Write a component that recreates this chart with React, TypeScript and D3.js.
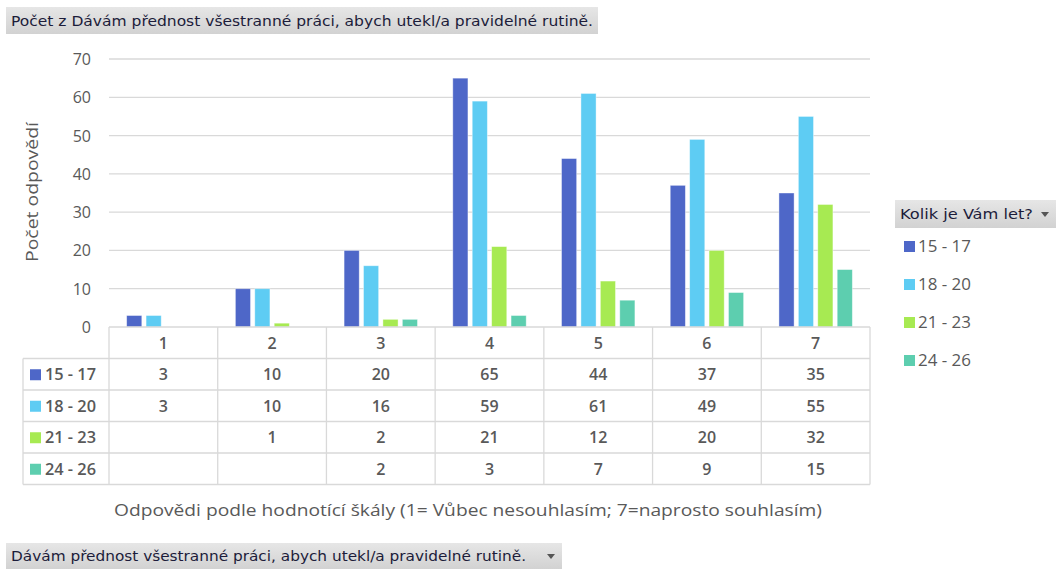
import * as d3 from 'd3';

const categories = ['1', '2', '3', '4', '5', '6', '7'];
const seriesNames = ['15 - 17', '18 - 20', '21 - 23', '24 - 26'];
const seriesColors = ['#4E67C8', '#5ECCF3', '#A7EA52', '#5DCEAF'];
const v1517 = [3, 10, 20, 65, 44, 37, 35];
const v1820 = [3, 10, 16, 59, 61, 49, 55];
const v2123 = [null, 1, 2, 21, 12, 20, 32];
const v2426 = [null, null, 2, 3, 7, 9, 15];
const yTicks = [0, 10, 20, 30, 40, 50, 60, 70];

const seriesValues: (number | null)[][] = [v1517, v1820, v2123, v2426];

const W = 1056;
const H = 570;
const plot = { left: 109, right: 870, top: 59, bottom: 327 };
const rowH = 31.5;
const tableLeft = 23;
const textGray = '#595959';
const gridGray = '#d9d9d9';
const font = '"Open Sans", "Noto Sans", sans-serif';
const boxFont = '"DejaVu Sans Condensed", "DejaVu Sans", sans-serif';

function FilterBox({ x, y, w, h, label, arrow, textW }: { x: number; y: number; w: number; h: number; label: string; arrow: boolean; textW?: number }) {
  return (
    <g>
      <rect x={x} y={y} width={w} height={h} fill="url(#btnGrad)" />
      <text x={x + 5} y={y + h / 2 + 5} fontFamily={boxFont} fontSize={14} fill="#1c1c3a"
        textLength={textW} lengthAdjust={textW ? 'spacingAndGlyphs' : undefined}>{label}</text>
      {arrow && <path d={`M${x + w - 15},${y + h / 2 - 2} l8,0 l-4,5 z`} fill="#555" />}
    </g>
  );
}

export default function App() {
  const x = d3.scaleBand().domain(categories).range([plot.left, plot.right]).padding(0);
  const groupW = 73.4;
  const xs = d3.scaleBand().domain(seriesNames).range([0, groupW]).paddingInner(0.22);
  const y = d3.scaleLinear().domain([0, 70]).range([plot.bottom, plot.top]);

  const headerBottom = plot.bottom + rowH;
  const tableBottom = headerBottom + rowH * seriesNames.length;

  return (
    <div style={{ position: 'absolute', left: 0, top: 0 }}>
      <svg width={W} height={H} style={{ display: 'block', background: '#fff' }}>
        <defs>
          <linearGradient id="btnGrad" x1="0" y1="0" x2="0" y2="1">
            <stop offset="0" stopColor="#e6e6e6" />
            <stop offset="1" stopColor="#d2d2d2" />
          </linearGradient>
        </defs>

        <FilterBox x={6} y={7} w={592} h={27} label="Počet z Dávám přednost všestranné práci, abych utekl/a pravidelné rutině." arrow={false} textW={582} />

        {/* gridlines + y labels */}
        {yTicks.map(t => (
          <g key={t}>
            {t > 0 && <line x1={plot.left} x2={plot.right} y1={y(t)} y2={y(t)} stroke={gridGray} strokeWidth={1.3} />}
            <text x={91} y={y(t) + 6} textAnchor="end" fontFamily={font} fontSize={16} fill={textGray}>{t}</text>
          </g>
        ))}

        <text transform={`translate(38,${192}) rotate(-90)`} textAnchor="middle" fontFamily={font} fontSize={17} fill={textGray}
          textLength={140} lengthAdjust="spacingAndGlyphs">Počet odpovědí</text>

        {/* bars */}
        {seriesValues.map((vals, si) => (
          <g key={si}>
            {vals.map((v, ci) => v == null ? null : (
              <rect key={ci}
                x={(x(categories[ci]) as number) + (x.bandwidth() - groupW) / 2 + (xs(seriesNames[si]) as number)}
                y={y(v)} width={xs.bandwidth()} height={y(0) - y(v)}
                fill={seriesColors[si]} stroke="#ffffff" strokeOpacity={0.5} strokeWidth={0.8} />
            ))}
          </g>
        ))}

        {/* data table */}
        <g stroke={gridGray} strokeWidth={1.3}>
          <line x1={plot.left} x2={plot.right} y1={plot.bottom} y2={plot.bottom} />
          {d3.range(seriesNames.length + 1).map(i => (
            <line key={i} x1={tableLeft} x2={plot.right} y1={headerBottom + i * rowH} y2={headerBottom + i * rowH} />
          ))}
          <line x1={tableLeft} x2={tableLeft} y1={headerBottom} y2={tableBottom} />
          {categories.map(c => (
            <line key={c} x1={x(c)} x2={x(c)} y1={plot.bottom} y2={tableBottom} />
          ))}
          <line x1={plot.right} x2={plot.right} y1={plot.bottom} y2={tableBottom} />
        </g>

        {categories.map(c => (
          <text key={c} x={(x(c) as number) + x.bandwidth() / 2} y={plot.bottom + rowH / 2 + 6} textAnchor="middle"
            fontFamily={font} fontSize={16} fontWeight={600} fill={textGray}>{c}</text>
        ))}

        {seriesNames.map((s, si) => {
          const ry = headerBottom + si * rowH + rowH / 2;
          return (
            <g key={s}>
              <rect x={30} y={ry - 5} width={11} height={11} fill={seriesColors[si]} />
              <text x={45} y={ry + 6} fontFamily={font} fontSize={16} fontWeight={600} fill={textGray}
                textLength={51} lengthAdjust="spacingAndGlyphs">{s}</text>
              {seriesValues[si].map((v, ci) => v == null ? null : (
                <text key={ci} x={(x(categories[ci]) as number) + x.bandwidth() / 2} y={ry + 6} textAnchor="middle"
                  fontFamily={font} fontSize={16} fontWeight={600} fill={textGray}>{v}</text>
              ))}
            </g>
          );
        })}

        <text x={468} y={516} textAnchor="middle" fontFamily={font} fontSize={15.5} fill={textGray}
          textLength={708} lengthAdjust="spacingAndGlyphs">Odpovědi podle hodnotící škály (1= Vůbec nesouhlasím; 7=naprosto souhlasím)</text>

        {/* legend */}
        <FilterBox x={895} y={200} w={161} h={28} label="Kolik je Vám let?" arrow={true} textW={133} />
        {seriesNames.map((s, si) => {
          const ly = 246 + si * 38;
          return (
            <g key={s}>
              <rect x={904} y={ly - 5} width={11} height={11} fill={seriesColors[si]} />
              <text x={918} y={ly + 6} fontFamily={font} fontSize={16} fill={textGray}
                textLength={53} lengthAdjust="spacingAndGlyphs">{s}</text>
            </g>
          );
        })}

        <FilterBox x={6} y={543} w={556} h={26} label="Dávám přednost všestranné práci, abych utekl/a pravidelné rutině." arrow={true} textW={515} />
      </svg>
    </div>
  );
}
